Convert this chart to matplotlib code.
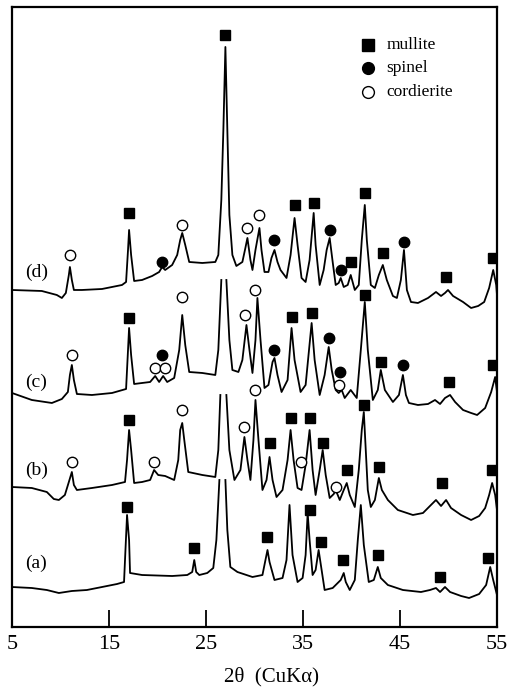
import numpy as np
import matplotlib.pyplot as plt

plt.rcParams['font.family'] = ['Liberation Serif', 'DejaVu Serif']

# XRD traces (2theta in degrees, intensity in arbitrary units)
# nan = the peak top is cut where it runs into the trace above
d_tth = [5.0, 8.07, 9.62, 10.14, 10.55, 10.86, 10.97, 11.17, 11.38, 12.21, 14.28, 16.34, 16.76, 16.96,
         17.07, 17.28, 17.59, 18.41, 19.45, 20.17, 20.48, 20.79, 21.51, 22.03, 22.34, 22.55, 22.86,
         23.27, 24.62, 25.96, 26.27, 26.58, 26.79, 27.00, 27.20, 27.41, 27.72, 28.13, 28.75, 29.06,
         29.27, 29.58, 29.79, 30.10, 30.51, 30.72, 31.03, 31.44, 31.75, 32.06, 32.37, 32.68, 33.30,
         33.72, 34.13, 34.44, 34.85, 35.27, 35.68, 36.10, 36.30, 36.72, 37.13, 37.44, 37.75, 38.06,
         38.37, 38.68, 38.89, 39.20, 39.61, 39.92, 40.34, 40.75, 41.06, 41.37, 41.58, 41.99, 42.41,
         42.82, 43.23, 43.64, 44.27, 44.68, 45.09, 45.41, 45.71, 46.13, 46.85, 47.89, 48.71, 49.23,
         49.64, 49.95, 50.47, 51.50, 52.33, 53.06, 53.68, 54.19, 54.61, 54.92, 55.0]
d_int = [337, 336, 332, 329, 334, 352, 360, 347, 337, 337, 338, 342, 345, 377,
         397, 372, 346, 347, 351, 355, 360, 357, 362, 372, 387, 394, 382,
         365, 364, 365, 372, 427, 497, 580, 497, 412, 372, 361, 365, 379,
         389, 367, 357, 377, 399, 377, 355, 355, 369, 377, 365, 357, 349,
         372, 409, 382, 349, 345, 367, 414, 382, 342, 357, 377, 389, 365,
         342, 344, 349, 340, 342, 352, 337, 342, 387, 422, 387, 342, 339,
         352, 362, 347, 331, 329, 347, 377, 337, 325, 324, 329, 335, 331,
         334, 337, 331, 325, 319, 321, 325, 339, 357, 342, 332]

c_tth = [5.0, 7.04, 9.11, 10.14, 10.76, 10.97, 11.17, 11.38, 11.69, 13.24, 15.31, 16.76, 16.96, 17.07,
         17.28, 17.59, 18.41, 19.24, 19.76, 20.17, 20.58, 21.00, 21.72, 22.24, 22.55, 22.86, 23.27,
         24.62, 25.96, 26.27, 26.58, np.nan, 27.10, 27.41, 27.72, 28.34, 28.75, 29.17, 29.48, 29.79,
         30.10, 30.30, 30.62, 31.03, 31.44, 31.86, 32.06, 32.37, 32.79, 33.41, 33.82, 34.13, 34.75,
         35.27, 35.89, 36.20, 36.72, 37.23, 37.65, 37.96, 38.37, 38.68, 38.99, 39.30, 39.92, 40.54,
         40.96, 41.37, 41.68, 42.20, 42.71, 43.02, 43.44, 44.27, 44.89, 45.30, 45.61, 45.92, 46.85,
         47.89, 48.61, 49.13, 49.64, 50.16, 50.68, 51.50, 52.33, 52.95, 53.78, 54.40, 54.81, 55.0]
c_int = [234, 227, 224, 228, 235, 252, 262, 247, 233, 232, 234, 238, 277, 299,
         272, 243, 244, 245, 251, 245, 251, 245, 249, 277, 312, 282, 255,
         254, 252, 277, 347, np.nan, 347, 287, 257, 255, 267, 302, 277, 254,
         287, 329, 287, 239, 242, 265, 269, 252, 235, 247, 299, 267, 235,
         242, 304, 267, 232, 252, 280, 257, 237, 234, 237, 229, 237, 229,
         277, 325, 277, 227, 237, 257, 237, 225, 232, 252, 232, 224, 222,
         223, 227, 223, 229, 232, 225, 217, 214, 212, 219, 235, 250, 235]

b_tth = [5.0, 7.04, 8.59, 9.31, 9.83, 10.45, 10.86, 11.17, 11.38, 11.69, 13.24, 15.31, 16.65, 16.86,
         17.07, 17.28, 17.59, 18.41, 19.24, 19.65, 20.07, 20.79, 21.72, 22.14, 22.34, 22.55, 22.76,
         23.17, 24.62, 25.96, 26.27, 26.48, np.nan, 27.10, 27.41, 27.93, 28.55, 28.96, 29.27, 29.58,
         29.89, 30.10, 30.41, 30.82, 31.24, 31.55, 31.86, 32.27, 32.89, 33.41, 33.72, 34.03, 34.44,
         34.85, 35.27, 35.68, 35.99, 36.30, 36.72, 37.03, 37.34, 37.75, 38.17, 38.37, 38.79, 39.20,
         39.51, 39.82, 40.34, 40.75, 41.06, 41.27, 41.47, 41.68, 41.99, 42.41, 42.82, 43.13, 43.75,
         44.78, 46.33, 47.37, 48.19, 48.71, 49.23, 49.75, 50.26, 51.30, 52.33, 53.16, 53.78, 54.19,
         54.50, 54.81, 55.0]
b_int = [140, 139, 135, 128, 127, 132, 145, 155, 142, 137, 139, 142, 145, 167,
         197, 177, 144, 145, 147, 157, 152, 151, 147, 167, 197, 204, 187,
         155, 152, 150, 177, 232, np.nan, 232, 177, 147, 157, 190, 167, 147,
         187, 227, 187, 137, 147, 170, 147, 130, 137, 167, 197, 167, 139,
         137, 162, 197, 157, 132, 157, 177, 152, 129, 133, 137, 127, 137,
         144, 132, 120, 157, 197, 215, 177, 137, 120, 127, 149, 137, 127,
         117, 112, 114, 122, 127, 121, 127, 119, 112, 107, 111, 119, 132,
         144, 132, 117]

a_tth = [5.0, 7.04, 8.59, 9.83, 11.17, 12.72, 14.28, 15.83, 16.55, 16.65, 16.86, 17.07, 17.17, 18.41,
         21.51, 23.07, 23.58, 23.79, 23.99, 24.31, 25.13, 25.75, 26.07, 26.38, np.nan, 27.00, 27.20,
         27.51, 28.24, 29.79, 30.82, 31.13, 31.34, 31.55, 32.06, 32.89, 33.30, 33.61, 33.92, 34.44,
         34.96, 35.27, 35.48, 35.68, 35.99, 36.30, 36.61, 36.92, 37.23, 38.06, 38.89, 39.20, 39.41,
         39.82, 40.34, 40.65, 40.96, 41.27, 41.78, 42.30, 42.71, 43.02, 43.75, 45.30, 47.16, 48.09,
         48.71, 49.13, 49.64, 50.16, 51.30, 52.12, 53.16, 53.88, 54.30, 54.61, 55.0]
a_int = [40, 39, 37, 34, 36, 37, 40, 43, 45, 67, 112, 87, 54, 52,
         51, 52, 55, 67, 55, 52, 54, 59, 87, 147, np.nan, 147, 97,
         60, 55, 50, 52, 67, 77, 65, 47, 49, 67, 122, 72, 45,
         49, 72, 114, 87, 52, 57, 77, 57, 37, 39, 47, 54, 45,
         37, 47, 87, 122, 82, 45, 47, 60, 49, 42, 37, 35, 37,
         39, 35, 40, 35, 31, 29, 33, 42, 60, 47, 32]

# phase marks above the peaks: m = mullite, s = spinel, c = cordierite
d_mark_tth = [10.97, 17.07, 20.48, 22.55, 27.0, 29.27, 30.51, 32.06, 34.13, 36.10, 37.75, 38.89,
              39.92, 41.37, 43.23, 45.41, 49.75, 54.61]
d_mark_int = [372, 414, 365, 402, 592, 399, 412, 387, 422, 424, 397, 357, 365, 434, 374, 385, 350, 369]
d_mark_kind = ['c', 'm', 's', 'c', 'm', 'c', 'c', 's', 'm', 'm', 's', 's', 'm', 'm', 'm', 's', 'm', 'm']

c_mark_tth = [11.17, 17.07, 20.48, 19.76, 20.79, 22.55, 29.06, 30.10, 31.96, 33.82, 35.89, 37.65,
              38.79, 38.68, 41.37, 43.02, 45.30, 50.06, 54.61]
c_mark_int = [272, 309, 272, 259, 259, 330, 312, 337, 277, 310, 314, 289, 255, 242, 332, 265, 262,
              245, 262]
c_mark_kind = ['c', 'm', 's', 'c', 'c', 'c', 'c', 'c', 's', 'm', 'm', 's', 's', 'c', 'm', 'm', 's',
               'm', 'm']

b_mark_tth = [11.17, 17.07, 19.65, 22.55, 28.96, 30.10, 31.55, 33.72, 34.75, 35.68, 37.03, 38.37,
              39.51, 41.27, 42.82, 49.33, 54.50]
b_mark_int = [165, 207, 165, 217, 200, 237, 184, 209, 165, 209, 184, 140, 157, 222, 160, 144, 157]
b_mark_kind = ['c', 'm', 'c', 'c', 'c', 'c', 'm', 'm', 'c', 'm', 'm', 'c', 'm', 'm', 'm', 'm', 'm']

a_mark_tth = [16.86, 23.79, 31.24, 35.68, 36.82, 39.10, 42.71, 49.13, 54.09]
a_mark_int = [120, 79, 90, 117, 85, 67, 72, 50, 69]
a_mark_kind = ['m', 'm', 'm', 'm', 'm', 'm', 'm', 'm', 'm']

curve_names = ['(a)', '(b)', '(c)', '(d)']
name_tth = [7.5, 7.5, 7.5, 7.5]
name_int = [64, 157, 245, 355]

phase_names = ['mullite', 'spinel', 'cordierite']

fig = plt.figure(figsize=(5.13, 6.90), dpi=100)
ax = fig.add_axes([0.0234, 0.0913, 0.9454, 0.8986])

curves = [(a_tth, a_int), (b_tth, b_int), (c_tth, c_int), (d_tth, d_int)]
marks = [(a_mark_tth, a_mark_int, a_mark_kind), (b_mark_tth, b_mark_int, b_mark_kind),
         (c_mark_tth, c_mark_int, c_mark_kind), (d_mark_tth, d_mark_int, d_mark_kind)]

# marker style for each phase
style = {'m': dict(marker='s', mfc='black', mec='black'),
         's': dict(marker='o', mfc='black', mec='black'),
         'c': dict(marker='o', mfc='white', mec='black')}

for (tth, inten), (mx, my, mk) in zip(curves, marks):
    ax.plot(tth, inten, color='black', lw=1.3)
    for x, y, k in zip(mx, my, mk):
        ax.plot(x, y, ls='none', ms=7.5, mew=1.0, zorder=3, **style[k])

for name, x, y in zip(curve_names, name_tth, name_int):
    ax.text(x, y, name, fontsize=14, ha='center', va='center')

# legend drawn by hand in the top right corner
for i, (k, name) in enumerate(zip(['m', 's', 'c'], phase_names)):
    ax.plot(0.734, 0.939 - i * 0.038, ls='none', ms=8.5, mew=1.0, transform=ax.transAxes, **style[k])
    ax.text(0.772, 0.939 - i * 0.038, name, fontsize=12.5, ha='left', va='center',
            transform=ax.transAxes)

ax.set_xlim(5, 55)
ax.set_ylim(0, 620)
ax.set_yticks([])
ax.set_xticks([5, 15, 25, 35, 45, 55])
ax.tick_params(axis='x', direction='in', length=12, width=1.3, labelsize=16, pad=6)
ticks = ax.xaxis.get_major_ticks()
ticks[0].tick1line.set_visible(False)
ticks[-1].tick1line.set_visible(False)
for s in ax.spines.values():
    s.set_linewidth(1.6)

fig.text(0.53, 0.019, '2θ  (CuKα)', fontsize=15, ha='center', va='center')

fig.savefig('out.png', dpi=100)
